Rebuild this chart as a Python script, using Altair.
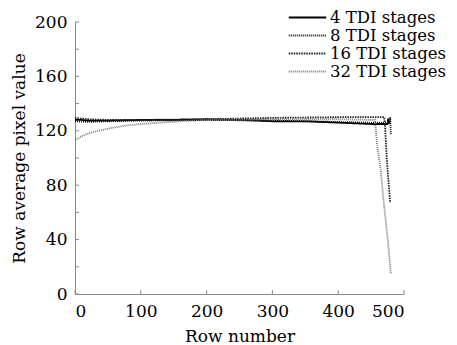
import altair as alt
import pandas as pd

series_names = ["4 TDI stages", "8 TDI stages", "16 TDI stages", "32 TDI stages"]

rows_4 = [0, 10, 20, 50, 100, 150, 200, 250, 300, 350, 400, 450, 470, 475, 476, 477]
vals_4 = [128, 128, 127.5, 127.5, 128, 128, 128.5, 128, 127, 127, 126, 125, 125, 125, 129, 125]

rows_8 = [0, 20, 50, 100, 200, 300, 400, 450, 476, 478, 479, 480]
vals_8 = [127, 126.5, 127, 127.5, 128, 127.5, 126.5, 126, 126, 126, 130, 117]

rows_16 = [0, 20, 50, 100, 200, 300, 400, 460, 470, 471, 474, 479]
vals_16 = [129.5, 128.5, 128, 128, 128.5, 129.5, 130, 130, 130, 125, 98, 67]

rows_32 = [0, 10, 20, 40, 60, 80, 100, 130, 160, 200, 250, 300, 400, 456, 459, 465, 468, 476, 480]
vals_32 = [113, 116, 118, 120.5, 122.5, 124, 125, 126, 127, 128, 128, 128.5, 128.5, 128, 110, 90, 73, 37, 15]

y_ticks = [0, 20, 40, 60, 80, 100, 120, 140, 160, 180, 200]
x_ticks = [0, 100, 200, 300, 400, 500]

frames = []
for name, r, v in [(series_names[0], rows_4, vals_4), (series_names[1], rows_8, vals_8),
                   (series_names[2], rows_16, vals_16), (series_names[3], rows_32, vals_32)]:
    frames.append(pd.DataFrame({"row": r, "value": v, "series": name}))
df = pd.concat(frames, ignore_index=True)

W, H = 329, 272
FONT = "DejaVu Serif"
AX = "#8a8a8a"

xs = alt.Scale(domain=[0, 500], nice=False)
ys = alt.Scale(domain=[0, 200], nice=False)

lines = alt.Chart(df).mark_line(strokeWidth=1.8).encode(
    x=alt.X("row:Q", scale=xs, axis=alt.Axis(values=x_ticks, title="Row number", ticks=False,
                                             labelPadding=9, titlePadding=9, grid=False)),
    y=alt.Y("value:Q", scale=ys, axis=alt.Axis(values=y_ticks, title="Row average pixel value",
                                               ticks=False, grid=False, labelPadding=8, titlePadding=6,
                                               labelExpr="datum.value % 40 == 0 ? datum.label : ''")),
    color=alt.Color("series:N", sort=series_names,
                    scale=alt.Scale(domain=series_names, range=["#000000", "#111111", "#222222", "#7a7a7a"]),
                    legend=alt.Legend(title=None, orient="none", legendX=223, legendY=-14,
                                      symbolType="M-2.2,0H2.2", symbolSize=289, symbolStrokeWidth=1.8,
                                      symbolFillColor="transparent",
                                      labelFontSize=16.5, labelFont=FONT, labelColor="#000",
                                      labelLimit=300, rowPadding=0, labelOffset=13)),
    strokeDash=alt.StrokeDash("series:N", sort=series_names,
                              scale=alt.Scale(domain=series_names, range=[[1, 0], [1, 1], [1.5, 1], [1, 1]]),
                              legend=alt.Legend(title=None)),
    order="row:Q",
)

yt = alt.Chart(pd.DataFrame({"t": y_ticks})).mark_rule(color=AX, strokeWidth=1).encode(
    y=alt.Y("t:Q", scale=ys), x=alt.value(0), x2=alt.value(4))
xt = alt.Chart(pd.DataFrame({"t": x_ticks})).mark_rule(color=AX, strokeWidth=1).encode(
    x=alt.X("t:Q", scale=xs), y=alt.value(H), y2=alt.value(H - 4))

chart = alt.layer(lines, yt, xt).properties(
    width=W, height=H, background="white",
    padding={"left": 2, "top": 0, "right": 0, "bottom": 0}
).configure_view(stroke=None).configure_axis(
    domainColor=AX, labelFont=FONT, titleFont=FONT, labelFontSize=17, titleFontSize=17,
    labelColor="#000", titleColor="#000", titleFontWeight="normal")

chart.save("out.html", embed_options={"renderer": "svg", "actions": False})
